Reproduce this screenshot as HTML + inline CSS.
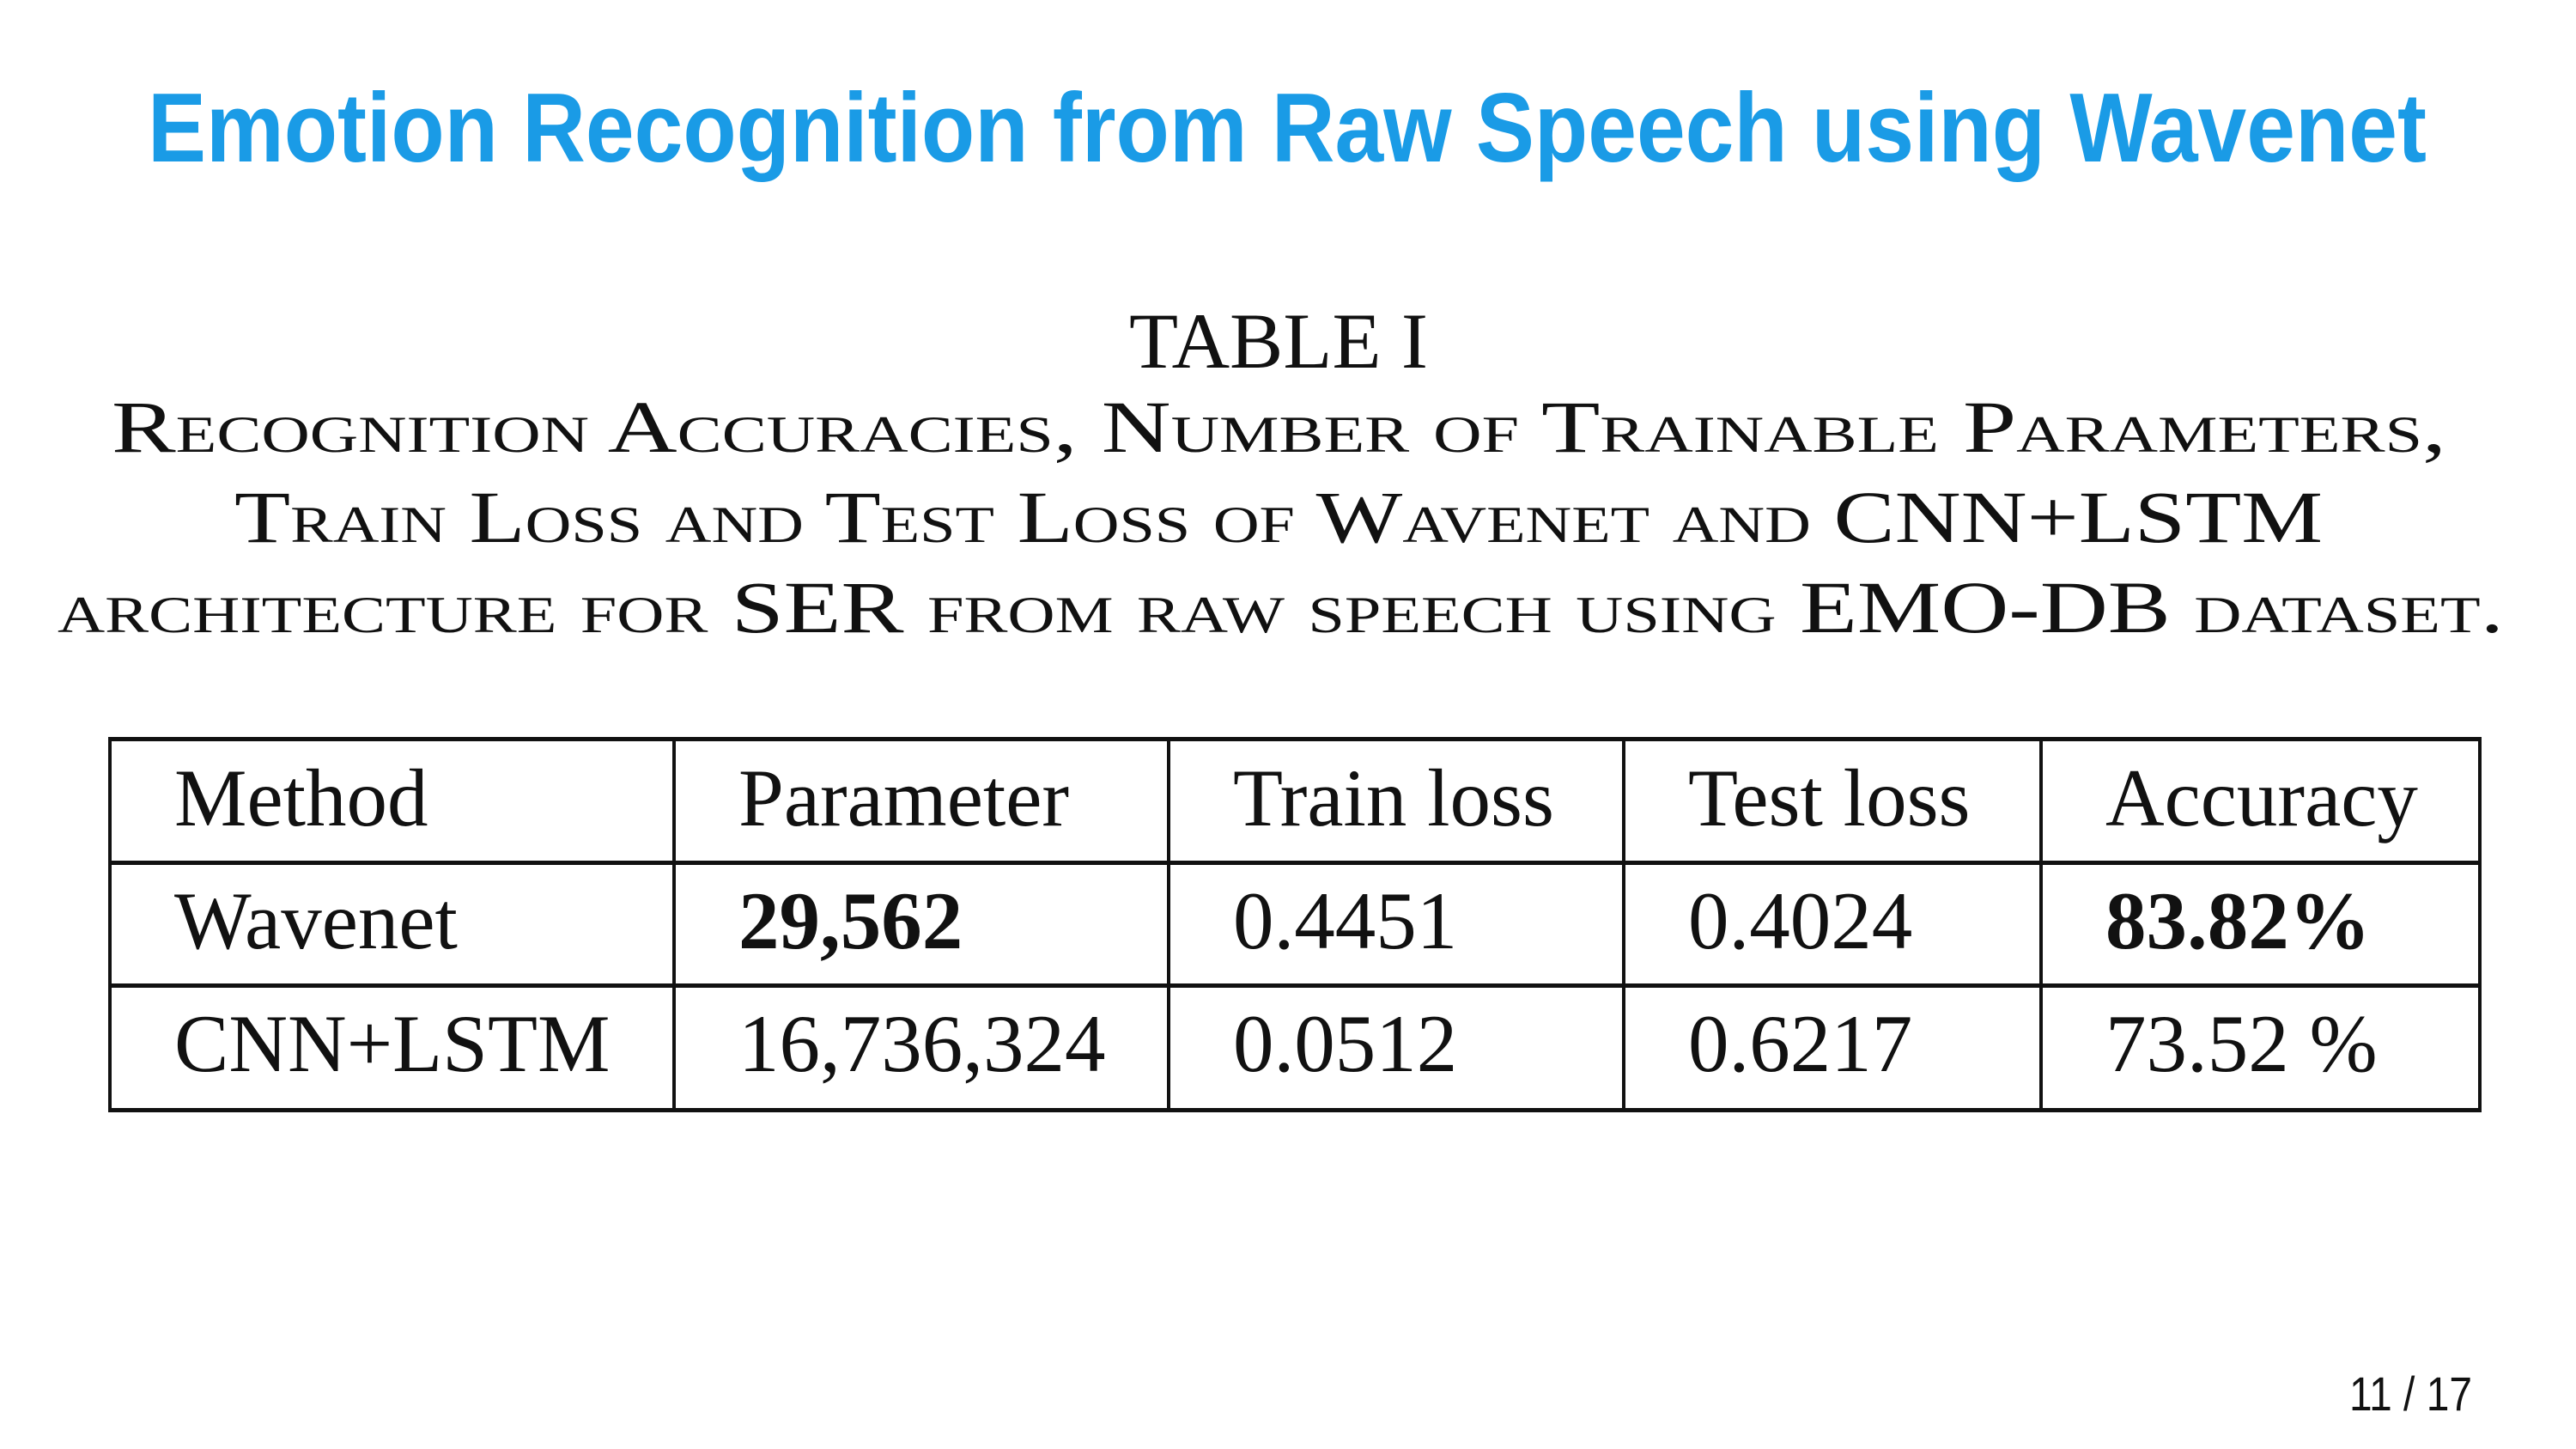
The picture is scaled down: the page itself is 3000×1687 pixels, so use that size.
<!DOCTYPE html>
<html><head><meta charset="utf-8">
<style>
html,body{margin:0;padding:0;background:#fff;}
#page{position:relative;width:3000px;height:1687px;overflow:hidden;background:#fff;font-family:"Liberation Serif",serif;color:#111;}
.abs{position:absolute;white-space:nowrap;}
.title{font-family:"Liberation Sans",sans-serif;font-weight:bold;color:#1a9be6;font-size:114px;line-height:1;transform-origin:0 0;}
.cap{font-size:86px;line-height:1;font-variant:small-caps;transform-origin:0 0;}
.hl{position:absolute;background:#111;height:5px;}
.vl{position:absolute;background:#111;width:4px;}
.cell{position:absolute;font-size:95px;line-height:1;white-space:nowrap;}
</style></head>
<body>
<div id="page">
  <div id="title" class="abs title" data-w="2654" data-x="172" style="top:93px;">Emotion Recognition from Raw Speech using Wavenet</div>

  <div class="abs fit" data-w="348" data-x="1315" style="top:351px;font-size:92px;line-height:1;transform-origin:0 0;">TABLE I</div>
  <div class="abs cap fit" data-w="2719" data-x="130" style="top:454px;">Recognition Accuracies, Number of Trainable Parameters,</div>
  <div class="abs cap fit" data-w="2432" data-x="273" style="top:559px;">Train Loss and Test Loss of Wavenet and CNN+LSTM</div>
  <div class="abs cap fit" data-w="2849" data-x="67" style="top:664px;">architecture for SER from raw speech using EMO-DB dataset.</div>

  <div id="table"></div>

  <div class="abs fit" data-w="143" data-x="2736" style="top:1595px;font-family:'Liberation Sans',sans-serif;font-size:56px;line-height:1;color:#111;transform-origin:0 0;">11 / 17</div>
</div>
<script>
const headers=["Method","Parameter","Train loss","Test loss","Accuracy"];
const row1=["Wavenet","29,562","0.4451","0.4024","83.82%"];
const row2=["CNN+LSTM","16,736,324","0.0512","0.6217","73.52 %"];
const boldCells=[[1,1],[1,4]];
const colX=[127,784,1360,1890,2376,2887];
const rowY=[860,1004,1147,1292];
const baselines=[968,1111,1254];
const t=document.getElementById('table');
rowY.forEach((y,i)=>{const d=document.createElement('div');d.className='hl';


d.style.left=colX[0]+'px';d.style.top=(y-2)+'px';d.style.width=(colX[5]-colX[0]+3)+'px';t.appendChild(d);});
colX.forEach((x,i)=>{const d=document.createElement('div');d.className='vl';


d.style.left=(x-1)+'px';d.style.top=(rowY[0]-2)+'px';d.style.height=(rowY[3]-rowY[0]+5)+'px';t.appendChild(d);});
[headers,row1,row2].forEach((r,ri)=>{r.forEach((txt,ci)=>{const c=document.createElement('div');c.className='cell';


c.textContent=txt;c.style.left=(colX[ci]+76)+'px';c.style.top=(baselines[ri]-86)+'px';
if(boldCells.some(b=>b[0]===ri&&b[1]===ci))c.style.fontWeight='bold';t.appendChild(c);});});
document.querySelectorAll('[data-w]').forEach(el=>{el.style.left=el.dataset.x+'px';const w=el.getBoundingClientRect().width;el.style.transform='scaleX('+(parseFloat(el.dataset.w)/w)+')';});
</script>
</body></html>
